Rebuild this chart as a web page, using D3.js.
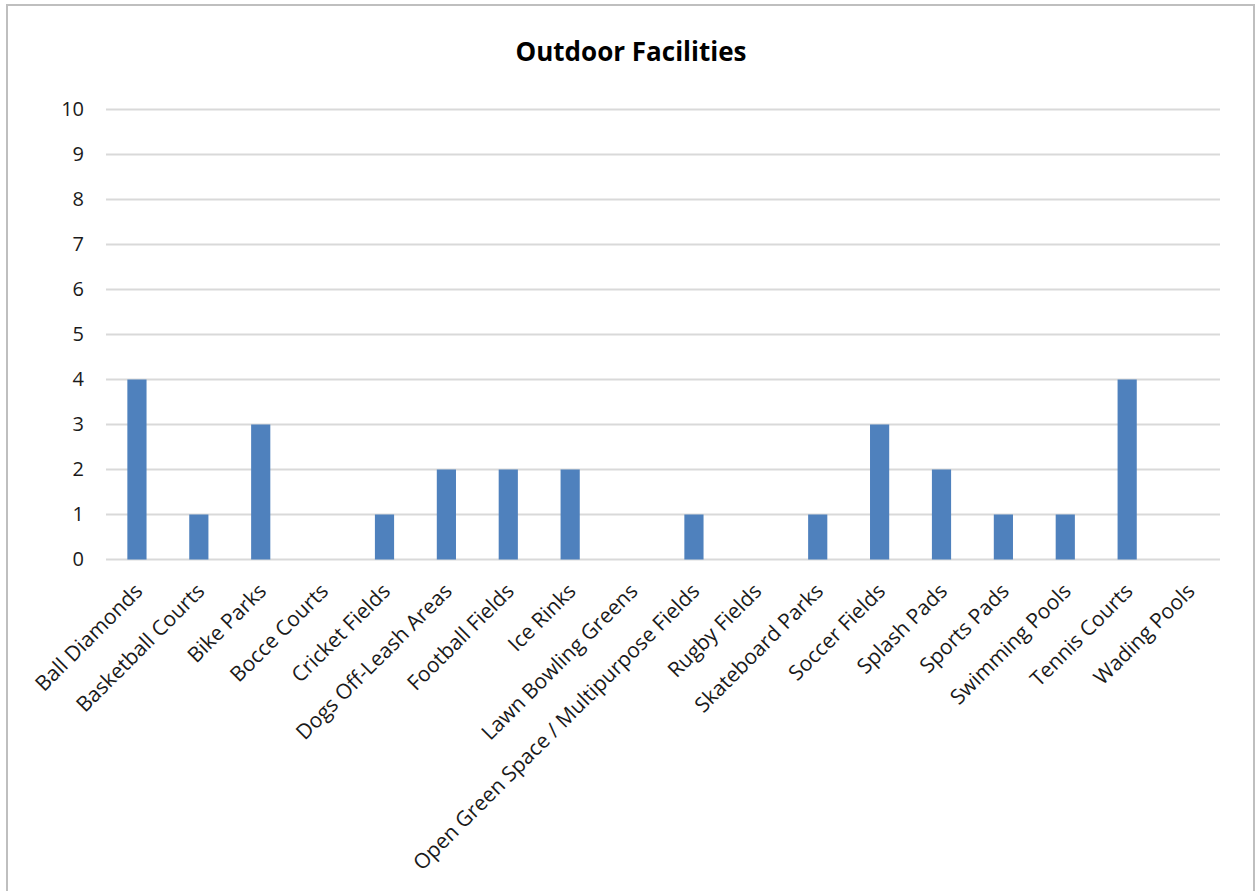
<!DOCTYPE html>
<html><head><meta charset="utf-8">
<script src="https://cdn.jsdelivr.net/npm/d3@7"></script>
<style>
body{margin:0;background:#fff;}
svg{display:block;}
</style></head>
<body>
<svg id="chart" width="1256" height="891"></svg>
<script>
const categories = ["Ball Diamonds","Basketball Courts","Bike Parks","Bocce Courts","Cricket Fields","Dogs Off-Leash Areas","Football Fields","Ice Rinks","Lawn Bowling Greens","Open Green Space / Multipurpose Fields","Rugby Fields","Skateboard Parks","Soccer Fields","Splash Pads","Sports Pads","Swimming Pools","Tennis Courts","Wading Pools"];
const values = [4,1,3,0,1,2,2,2,0,1,0,1,3,2,1,1,4,0];
const yTicks = [0,1,2,3,4,5,6,7,8,9,10];
const title = "Outdoor Facilities";

(function(){
const svg = d3.select("#chart");
const font = "'Open Sans', 'Noto Sans', sans-serif";
svg.append("rect").attr("x",7).attr("y",5).attr("width",1247).attr("height",900)
  .attr("fill","#fff").attr("stroke","#bfbfbf").attr("stroke-width",2);

const pLeft=106, pRight=1220, pTop=109.5, pBottom=559.5;
const x = d3.scaleBand().domain(categories).range([pLeft,pRight]).paddingInner(0.69).paddingOuter(0.345);
const y = d3.scaleLinear().domain([0,10]).range([pBottom,pTop]);

svg.append("g").selectAll("line").data(yTicks).join("line")
  .attr("x1",pLeft).attr("x2",pRight).attr("y1",d=>y(d)).attr("y2",d=>y(d))
  .attr("stroke","#d9d9d9").attr("stroke-width",2);

const yAxis = d3.axisLeft(y).tickValues(yTicks).tickSize(0).tickPadding(0);
const yg = svg.append("g").attr("transform",`translate(${pLeft-22},0)`).call(yAxis);
yg.select(".domain").remove();
yg.selectAll("text").attr("font-family",font).attr("font-size",20).attr("fill","#1a1a1a");

svg.append("g").selectAll("rect").data(categories).join("rect")
  .attr("x",d=>x(d)).attr("width",x.bandwidth())
  .attr("y",(d,i)=>y(values[i])).attr("height",(d,i)=>y(0)-y(values[i]))
  .attr("fill","#4f81bd");

const xAxis = d3.axisBottom(x).tickSize(0).tickPadding(0);
const xg = svg.append("g").attr("transform",`translate(0,${pBottom})`).call(xAxis);
xg.select(".domain").remove();
xg.selectAll("text")
  .attr("font-family",font).attr("font-size",21).attr("fill","#1a1a1a")
  .attr("text-anchor","end").attr("dy",null)
  .attr("transform","translate(3,29) rotate(-45)")
  .attr("x",0).attr("y",0).attr("dominant-baseline","middle");

svg.append("text").attr("x",631).attr("y",61).attr("text-anchor","middle")
  .attr("font-family",font).attr("font-weight","bold").attr("font-size",26).attr("fill","#000")
  .text(title);
})();
</script>
</body></html>
